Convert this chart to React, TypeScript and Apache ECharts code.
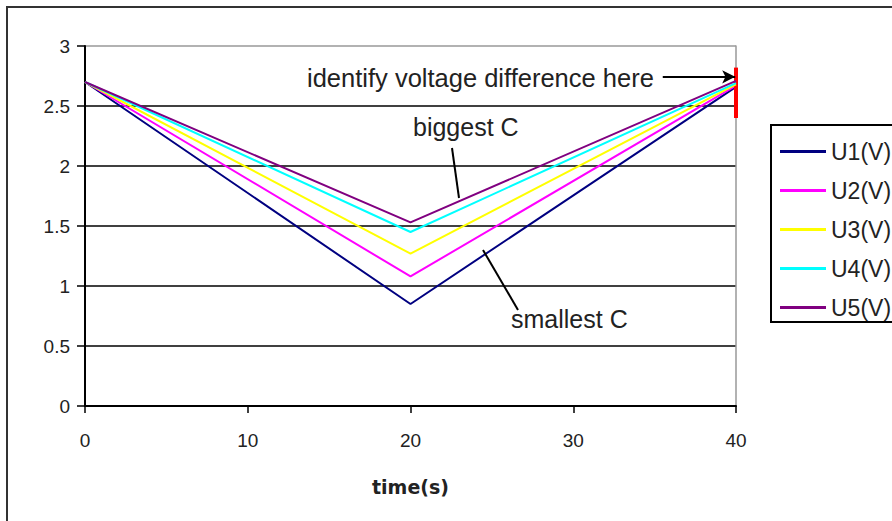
import React, { useEffect, useRef } from "react";
import * as echarts from "echarts";

const time = [0, 20, 40];
const seriesNames = ["U1(V)", "U2(V)", "U3(V)", "U4(V)", "U5(V)"];
const u1 = [2.7, 0.85, 2.66];
const u2 = [2.7, 1.08, 2.67];
const u3 = [2.7, 1.27, 2.68];
const u4 = [2.7, 1.45, 2.69];
const u5 = [2.7, 1.53, 2.71];
const seriesValues = [u1, u2, u3, u4, u5];
const seriesColors = ["#000080", "#FF00FF", "#FFFF00", "#00FFFF", "#800080"];
const xTicks = { min: 0, max: 40, interval: 10 };
const yTicks = { min: 0, max: 3, interval: 0.5 };
const diffBar = [2.4, 2.82];
const arrowFrom = [35.5, 2.743];

const FONT = "'Liberation Sans', Arial, sans-serif";

export default function App() {
  const ref = useRef<HTMLDivElement>(null);
  useEffect(() => {
    if (!ref.current) return;
    const chart = echarts.init(ref.current, undefined, { renderer: "svg" });
    const series: any[] = seriesValues.map((vals, i) => ({
      name: seriesNames[i],
      type: "line",
      data: time.map((t, j) => [t, vals[j]]),
      symbol: "none",
      lineStyle: { color: seriesColors[i], width: 2 },
      itemStyle: { color: seriesColors[i] },
      z: 3 + i,
    }));
    series.push({
      type: "line",
      data: [],
      silent: true,
      z: 10,
      markLine: {
        silent: true,
        animation: false,
        label: { show: false },
        data: [
          [
            { coord: [xTicks.max, diffBar[0]], symbol: "none", lineStyle: { color: "#FF0000", width: 4, type: "solid" } },
            { coord: [xTicks.max, diffBar[1]], symbol: "none" },
          ],
          [
            { coord: [arrowFrom[0], arrowFrom[1]], symbol: "none", lineStyle: { color: "#000", width: 2, type: "solid" } },
            { coord: [xTicks.max - 0.05, arrowFrom[1]], symbol: "arrow", symbolSize: [10, 13] },
          ],
        ],
      },
    });

    chart.setOption({
      animation: false,
      backgroundColor: "#fff",
      grid: { left: 85, right: 156, top: 46, bottom: 115 },
      legend: {
        data: seriesNames,
        orient: "vertical",
        left: 780,
        top: 140,
        padding: 0,
        itemWidth: 46,
        itemHeight: 3,
        itemGap: 16,
        icon: "rect",
        textStyle: { fontFamily: FONT, fontSize: 23, color: "#222", padding: [0, 0, 0, 0] },
      },
      xAxis: {
        type: "value",
        min: xTicks.min,
        max: xTicks.max,
        interval: xTicks.interval,
        name: "time(s)",
        nameLocation: "middle",
        nameGap: 71,
        nameTextStyle: { fontFamily: "'DejaVu Sans', sans-serif", fontWeight: "bold", fontSize: 19, color: "#222" },
        axisLine: { lineStyle: { color: "#000", width: 2 } },
        axisTick: { show: true, length: 7, lineStyle: { color: "#000", width: 1.5 } },
        axisLabel: { fontFamily: FONT, fontSize: 19, color: "#222", margin: 25 },
        splitLine: { show: false },
      },
      yAxis: [
        {
          type: "value",
          min: yTicks.min,
          max: yTicks.max,
          interval: yTicks.interval,
          axisLine: { show: true, lineStyle: { color: "#000", width: 2 } },
          axisTick: { show: true, length: 8, lineStyle: { color: "#000", width: 1.5 } },
          axisLabel: { fontFamily: FONT, fontSize: 19, color: "#222", margin: 15 },
          splitLine: {
            show: true,
            lineStyle: { color: ["#000", "#000", "#000", "#000", "#000", "#000", "#999"], width: 1.5 },
          },
        },
        {
          type: "value",
          position: "right",
          min: yTicks.min,
          max: yTicks.max,
          interval: yTicks.interval,
          axisLine: { show: true, lineStyle: { color: "#999", width: 1.5 } },
          axisTick: { show: false },
          axisLabel: { show: false },
          splitLine: { show: false },
        },
      ],
      series,
      graphic: [
        {
          type: "rect",
          shape: { x: 7, y: 7, width: 900, height: 540 },
          style: { fill: "none", stroke: "#333", lineWidth: 2 },
          silent: true,
        },
        {
          type: "rect",
          shape: { x: 771, y: 125, width: 140, height: 197 },
          style: { fill: "none", stroke: "#000", lineWidth: 2 },
          silent: true,
        },
        {
          type: "text",
          x: 307,
          y: 78,
          style: { text: "identify voltage difference here", font: `25.5px ${FONT}`, fill: "#222", textVerticalAlign: "middle" },
        },
        {
          type: "text",
          x: 413,
          y: 127,
          style: { text: "biggest C", font: `25px ${FONT}`, fill: "#222", textVerticalAlign: "middle" },
        },
        {
          type: "text",
          x: 511,
          y: 319,
          style: { text: "smallest C", font: `25px ${FONT}`, fill: "#222", textVerticalAlign: "middle" },
        },
        {
          type: "line",
          shape: { x1: 452, y1: 148, x2: 459, y2: 198 },
          style: { stroke: "#000", lineWidth: 2 },
          z: 20,
        },
        {
          type: "line",
          shape: { x1: 483, y1: 250, x2: 518, y2: 310 },
          style: { stroke: "#000", lineWidth: 2 },
          z: 20,
        },
      ],
    });
    return () => chart.dispose();
  }, []);
  return (
    <div
      ref={ref}
      style={{ position: "fixed", left: 0, top: 0, width: 892, height: 521, background: "#fff" }}
    />
  );
}
